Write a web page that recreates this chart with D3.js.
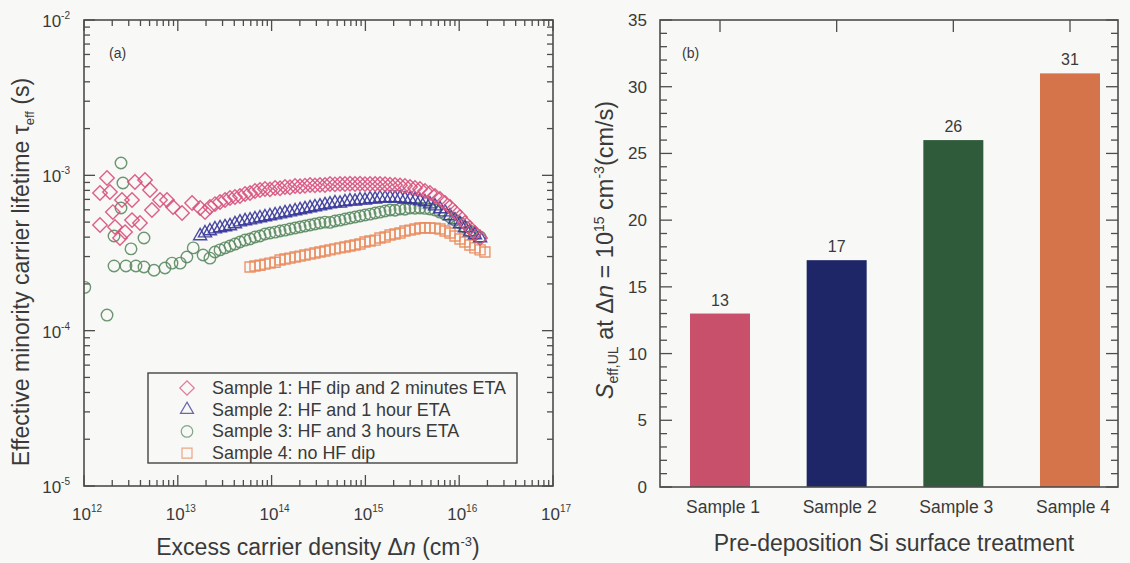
<!DOCTYPE html>
<html><head><meta charset="utf-8">
<script src="https://cdn.jsdelivr.net/npm/d3@7"></script>
<style>
body{margin:0;background:#f8f8f6;}
svg{display:block;font-family:"Liberation Sans",Arial,sans-serif;}
</style></head><body>
<svg id="c" width="1130" height="563"></svg>
<script>
// ---------- Panel (a) data: excess carrier density (cm^-3) and lifetime (s) ----------
const s1Dn = [1.48e12,1.76e12,1.89e12,1.48e12,2.03e12,2.14e12,2.42e12,2.74e12,2.54e12,3.25e12,3.25e12,3.95e12,3.49e12,4.47e12,5.05e12,5.30e12,6.46e12,7.67e12,8.89e12,1.11e13,1.42e13,1.73e13,1.95e13,
 2.20e13,2.49e13,2.82e13,3.19e13,3.60e13,4.07e13,4.60e13,5.21e13,5.89e13,6.65e13,
 7.52e13,8.50e13,9.61e13,1.09e14,1.23e14,1.39e14,1.57e14,1.78e14,2.01e14,2.27e14,
 2.57e14,2.90e14,3.28e14,3.71e14,4.19e14,4.74e14,5.36e14,6.06e14,6.85e14,7.75e14,
 8.76e14,9.90e14,1.12e15,1.27e15,1.43e15,1.62e15,1.83e15,2.07e15,2.34e15,2.64e15,
 2.99e15,3.38e15,3.82e15,4.32e15,4.88e15,5.52e15,6.24e15,7.06e15,7.98e15,9.02e15,
 1.02e16,1.15e16,1.30e16,1.47e16,1.67e16];
const s1Tau = [7.69e-4,9.61e-4,7.81e-4,4.79e-4,5.80e-4,4.65e-4,3.95e-4,4.31e-4,6.93e-4,6.93e-4,5.15e-4,4.93e-4,9.06e-4,9.33e-4,8.04e-4,5.98e-4,6.93e-4,6.93e-4,6.25e-4,5.72e-4,6.63e-4,6.16e-4,5.80e-4,
 6.25e-4,6.53e-4,6.73e-4,6.93e-4,7.14e-4,7.25e-4,7.36e-4,7.58e-4,7.69e-4,7.92e-4,
 8.04e-4,8.16e-4,8.12e-4,8.28e-4,8.25e-4,8.41e-4,8.38e-4,8.53e-4,8.50e-4,8.56e-4,
 8.66e-4,8.62e-4,8.68e-4,8.66e-4,8.79e-4,8.75e-4,8.81e-4,8.79e-4,8.83e-4,8.79e-4,
 8.82e-4,8.78e-4,8.80e-4,8.79e-4,8.81e-4,8.77e-4,8.70e-4,8.66e-4,8.62e-4,8.53e-4,
 8.41e-4,8.28e-4,8.16e-4,7.92e-4,7.69e-4,7.36e-4,7.04e-4,6.63e-4,6.25e-4,5.80e-4,
 5.39e-4,4.93e-4,4.58e-4,4.25e-4,3.95e-4];

const s2Dn = [1.73e13,1.95e13,
 2.20e13,2.49e13,2.82e13,3.19e13,3.60e13,4.07e13,4.60e13,5.21e13,5.89e13,6.65e13,
 7.52e13,8.50e13,9.61e13,1.09e14,1.23e14,1.39e14,1.57e14,1.78e14,2.01e14,2.27e14,
 2.57e14,2.90e14,3.28e14,3.71e14,4.19e14,4.74e14,5.36e14,6.06e14,6.85e14,7.75e14,
 8.76e14,9.90e14,1.12e15,1.27e15,1.43e15,1.62e15,1.83e15,2.07e15,2.34e15,2.64e15,
 2.99e15,3.38e15,3.82e15,4.32e15,4.88e15,5.52e15,6.24e15,7.06e15,7.98e15,9.02e15,
 1.02e16,1.15e16,1.30e16,1.47e16,1.67e16];
const s2Tau = [4.07e-4,4.25e-4,
 4.38e-4,4.51e-4,4.58e-4,4.65e-4,4.72e-4,4.86e-4,5.00e-4,5.08e-4,5.15e-4,5.23e-4,
 5.31e-4,5.39e-4,5.47e-4,5.55e-4,5.63e-4,5.72e-4,5.80e-4,5.89e-4,5.98e-4,6.07e-4,
 6.16e-4,6.25e-4,6.34e-4,6.44e-4,6.53e-4,6.63e-4,6.60e-4,6.73e-4,6.83e-4,6.80e-4,
 6.93e-4,6.90e-4,7.04e-4,7.01e-4,7.14e-4,7.12e-4,7.15e-4,7.13e-4,7.14e-4,7.04e-4,
 7.02e-4,6.93e-4,6.83e-4,6.73e-4,6.53e-4,6.34e-4,6.07e-4,5.80e-4,5.47e-4,5.15e-4,
 4.86e-4,4.58e-4,4.31e-4,4.13e-4,3.95e-4];

const s3Dn = [1.02e12,1.76e12,2.48e12,2.60e12,2.48e12,2.09e12,3.17e12,4.36e12,2.09e12,2.80e12,3.58e12,4.36e12,5.58e12,7.30e12,8.67e12,1.06e13,1.25e13,1.46e13,1.86e13,2.20e13,
 2.49e13,2.82e13,3.19e13,3.60e13,4.07e13,4.60e13,5.21e13,5.89e13,6.65e13,
 7.52e13,8.50e13,9.61e13,1.09e14,1.23e14,1.39e14,1.57e14,1.78e14,2.01e14,2.27e14,
 2.57e14,2.90e14,3.28e14,3.71e14,4.19e14,4.74e14,5.36e14,6.06e14,6.85e14,7.75e14,
 8.76e14,9.90e14,1.12e15,1.27e15,1.43e15,1.62e15,1.83e15,2.07e15,2.34e15,2.64e15,
 2.99e15,3.38e15,3.82e15,4.32e15,4.88e15,5.52e15,6.24e15,7.06e15,7.98e15,9.02e15,
 1.02e16,1.15e16,1.30e16,1.47e16,1.67e16];
const s3Tau = [1.90e-4,1.26e-4,1.20e-3,8.92e-4,6.16e-4,4.07e-4,3.36e-4,3.95e-4,2.61e-4,2.61e-4,2.61e-4,2.57e-4,2.45e-4,2.53e-4,2.72e-4,2.72e-4,2.98e-4,3.41e-4,3.07e-4,2.93e-4,
 3.21e-4,3.31e-4,3.41e-4,3.51e-4,3.61e-4,3.72e-4,3.83e-4,3.89e-4,4.01e-4,
 4.07e-4,4.19e-4,4.25e-4,4.31e-4,4.38e-4,4.44e-4,4.51e-4,4.58e-4,4.65e-4,4.72e-4,
 4.79e-4,4.86e-4,4.93e-4,5.00e-4,4.98e-4,5.08e-4,5.15e-4,5.23e-4,5.31e-4,5.39e-4,
 5.47e-4,5.55e-4,5.63e-4,5.72e-4,5.80e-4,5.89e-4,5.98e-4,5.96e-4,6.07e-4,6.05e-4,
 6.16e-4,6.14e-4,6.16e-4,6.13e-4,6.07e-4,5.98e-4,5.80e-4,5.63e-4,5.39e-4,5.15e-4,
 4.93e-4,4.65e-4,4.38e-4,4.19e-4,4.01e-4];

const s4Dn = [5.89e13,6.65e13,
 7.52e13,8.50e13,9.61e13,1.09e14,1.23e14,1.39e14,1.57e14,1.78e14,2.01e14,2.27e14,
 2.57e14,2.90e14,3.28e14,3.71e14,4.19e14,4.74e14,5.36e14,6.06e14,6.85e14,7.75e14,
 8.76e14,9.90e14,1.12e15,1.27e15,1.43e15,1.62e15,1.83e15,2.07e15,2.34e15,2.64e15,
 2.99e15,3.38e15,3.82e15,4.32e15,4.88e15,5.52e15,6.24e15,7.06e15,7.98e15,9.02e15,
 1.02e16,1.15e16,1.30e16,1.47e16,1.67e16,1.88e16];
const s4Tau = [2.57e-4,2.61e-4,
 2.64e-4,2.68e-4,2.72e-4,2.76e-4,2.85e-4,2.89e-4,2.93e-4,2.98e-4,3.02e-4,3.07e-4,
 3.11e-4,3.16e-4,3.21e-4,3.26e-4,3.31e-4,3.36e-4,3.41e-4,3.46e-4,3.51e-4,3.56e-4,
 3.61e-4,3.72e-4,3.78e-4,3.83e-4,3.95e-4,4.01e-4,4.13e-4,4.19e-4,4.25e-4,4.38e-4,
 4.44e-4,4.51e-4,4.58e-4,4.60e-4,4.58e-4,4.57e-4,4.51e-4,4.38e-4,4.25e-4,4.07e-4,
 3.89e-4,3.72e-4,3.56e-4,3.41e-4,3.31e-4,3.21e-4];

const legendLabels = ["Sample 1: HF dip and 2 minutes ETA","Sample 2: HF and 1 hour ETA","Sample 3: HF and 3 hours ETA","Sample 4: no HF dip"];
const xTickExps = [12,13,14,15,16,17];
const yTickExps = [-5,-4,-3,-2];

// ---------- Panel (b) data ----------
const categories = ["Sample 1","Sample 2","Sample 3","Sample 4"];
const barValues = [13,17,26,31];
const barTicks = [0,5,10,15,20,25,30,35];

// ---------- drawing ----------
const svg = d3.select("#c");
svg.append("rect").attr("width",1130).attr("height",563).attr("fill","#f8f8f6");
const ink = "#3a3a3a", axisCol = "#4d4d4d";

// ===== Panel (a) =====
const A = {l:84,t:20,r:553,b:486};
const x = d3.scaleLog().domain([1e12,1e17]).range([A.l,A.r]);
const y = d3.scaleLog().domain([1e-5,1e-2]).range([A.b,A.t]);
const gA = svg.append("g");
const isMajor = v => Math.abs(Math.log10(v) - Math.round(Math.log10(v))) < 1e-9;

x.ticks().forEach(v => {
  const L = isMajor(v) ? 11 : 6, px = x(v);
  gA.append("line").attr("x1",px).attr("x2",px).attr("y1",A.b).attr("y2",A.b-L).attr("stroke",axisCol).attr("stroke-width",1.3);
  gA.append("line").attr("x1",px).attr("x2",px).attr("y1",A.t).attr("y2",A.t+L).attr("stroke",axisCol).attr("stroke-width",1.3);
});
y.ticks().forEach(v => {
  const L = isMajor(v) ? 11 : 6, py = y(v);
  gA.append("line").attr("y1",py).attr("y2",py).attr("x1",A.l).attr("x2",A.l+L).attr("stroke",axisCol).attr("stroke-width",1.3);
  gA.append("line").attr("y1",py).attr("y2",py).attr("x1",A.r).attr("x2",A.r-L).attr("stroke",axisCol).attr("stroke-width",1.3);
});
xTickExps.forEach(e => {
  const t = gA.append("text").attr("x",x(Math.pow(10,e))+3).attr("y",520).attr("text-anchor","middle")
    .attr("font-size",17).attr("fill",ink);
  t.append("tspan").text("10");
  t.append("tspan").attr("dy",-8).attr("font-size",10).text(e);
});
yTickExps.forEach(e => {
  const t = gA.append("text").attr("x",70).attr("y",y(Math.pow(10,e))+7).attr("text-anchor","end")
    .attr("font-size",17).attr("fill",ink);
  t.append("tspan").text("10");
  t.append("tspan").attr("dy",-8).attr("font-size",10).text(e);
});

svg.append("clipPath").attr("id","clipA").append("rect").attr("x",A.l).attr("y",A.t).attr("width",A.r-A.l).attr("height",A.b-A.t);
const series = [
  {dn:s1Dn, tau:s1Tau, sym:d3.symbol().type(d3.symbolSquare).size(104), rot:45, color:"#d8507d"},
  {dn:s2Dn, tau:s2Tau, sym:d3.symbol().type(d3.symbolTriangle).size(74), rot:0, color:"#36369a"},
  {dn:s3Dn, tau:s3Tau, sym:d3.symbol().type(d3.symbolCircle).size(104), rot:0, color:"#5b8b62"},
  {dn:s4Dn, tau:s4Tau, sym:d3.symbol().type(d3.symbolSquare).size(100), rot:0, color:"#e98a5c"}
];
const gM = gA.append("g").attr("clip-path","url(#clipA)");
series.slice().reverse().forEach(s => {
  gM.append("g").selectAll("path").data(s.dn.map((d,i)=>[d,s.tau[i]])).join("path")
    .attr("d", s.sym())
    .attr("transform", d => `translate(${x(d[0])},${y(d[1])}) rotate(${s.rot})`)
    .attr("fill","none").attr("stroke",s.color).attr("stroke-width",1.4).attr("stroke-opacity",0.9);
});

gA.append("rect").attr("x",A.l).attr("y",A.t).attr("width",A.r-A.l).attr("height",A.b-A.t)
  .attr("fill","none").attr("stroke",axisCol).attr("stroke-width",1.6);

const lg = gA.append("g");
lg.append("rect").attr("x",148).attr("y",373).attr("width",369).attr("height",90)
  .attr("fill","#f8f8f6").attr("stroke","#444").attr("stroke-width",1.4);
legendLabels.forEach((lab,i) => {
  const cy = 388 + i*21.7, s = series[i];
  lg.append("path").attr("d",s.sym()).attr("transform",`translate(187,${cy}) rotate(${s.rot})`)
    .attr("fill","none").attr("stroke",s.color).attr("stroke-width",1.2).attr("stroke-opacity",0.75);
  lg.append("text").attr("x",212).attr("y",cy+6).attr("font-size",17.9).attr("fill",ink).text(lab);
});

gA.append("text").attr("x",109).attr("y",58).attr("font-size",14).attr("fill",ink).text("(a)");
const xt = gA.append("text").attr("x",318).attr("y",555).attr("text-anchor","middle").attr("font-size",23).attr("fill",ink);
xt.append("tspan").text("Excess carrier density Δ");
xt.append("tspan").attr("font-style","italic").text("n");
xt.append("tspan").text(" (cm");
xt.append("tspan").attr("dy",-9).attr("font-size",13).text("-3");
xt.append("tspan").attr("dy",9).text(")");
const yt = gA.append("text").attr("transform","translate(29,272) rotate(-90)").attr("text-anchor","middle").attr("font-size",23).attr("fill",ink);
yt.append("tspan").text("Effective minority carrier lifetime τ");
yt.append("tspan").attr("dy",5).attr("font-size",13).text("eff");
yt.append("tspan").attr("dy",-5).text(" (s)");

// ===== Panel (b) =====
const B = {l:660,t:20,r:1118,b:487};
const xb = d3.scalePoint().domain(categories).range([720,1070]);
const yb = d3.scaleLinear().domain([0,35]).range([B.b,B.t]);
const gB = svg.append("g");
d3.range(0,36,1).forEach(v => {
  const L = v % 5 === 0 ? 12 : 7, py = yb(v);
  gB.append("line").attr("x1",B.l).attr("x2",B.l+L).attr("y1",py).attr("y2",py).attr("stroke",axisCol).attr("stroke-width",1.3);
  gB.append("line").attr("x1",B.r).attr("x2",B.r-L).attr("y1",py).attr("y2",py).attr("stroke",axisCol).attr("stroke-width",1.3);
});
categories.forEach(c => {
  gB.append("line").attr("x1",xb(c)).attr("x2",xb(c)).attr("y1",B.t).attr("y2",B.t+12).attr("stroke",axisCol).attr("stroke-width",1.3);
  gB.append("line").attr("x1",xb(c)).attr("x2",xb(c)).attr("y1",B.b).attr("y2",B.b-12).attr("stroke",axisCol).attr("stroke-width",1.3);
});
const barColors = ["#c9506a","#1f2668","#2f5b3b","#d5734b"];
gB.selectAll("rect.bar").data(categories).join("rect").attr("class","bar")
  .attr("x", c => xb(c)-30).attr("width",60)
  .attr("y", (c,i) => yb(barValues[i])).attr("height",(c,i) => yb(0)-yb(barValues[i]))
  .attr("fill",(c,i) => barColors[i]);
gB.selectAll("text.val").data(categories).join("text").attr("class","val")
  .attr("x", c => xb(c)).attr("y",(c,i) => yb(barValues[i])-8).attr("text-anchor","middle")
  .attr("font-size",16).attr("fill",ink).text((c,i) => barValues[i]);
gB.append("rect").attr("x",B.l).attr("y",B.t).attr("width",B.r-B.l).attr("height",B.b-B.t)
  .attr("fill","none").attr("stroke",axisCol).attr("stroke-width",1.6);
barTicks.forEach(v => {
  gB.append("text").attr("x",647).attr("y",yb(v)+6).attr("text-anchor","end").attr("font-size",17).attr("fill",ink).text(v);
});
categories.forEach(c => {
  gB.append("text").attr("x",xb(c)+3).attr("y",513).attr("text-anchor","middle").attr("font-size",17.5).attr("fill",ink).text(c);
});
gB.append("text").attr("x",682).attr("y",58).attr("font-size",14).attr("fill",ink).text("(b)");
gB.append("text").attr("x",894).attr("y",551).attr("text-anchor","middle").attr("font-size",23).attr("fill",ink).text("Pre-deposition Si surface treatment");
const ybt = gB.append("text").attr("transform","translate(613,250) rotate(-90)").attr("text-anchor","middle").attr("font-size",23.5).attr("fill",ink);
ybt.append("tspan").attr("font-style","italic").text("S");
ybt.append("tspan").attr("dy",5).attr("font-size",14).text("eff,UL");
ybt.append("tspan").attr("dy",-5).text(" at Δ");
ybt.append("tspan").attr("font-style","italic").text("n");
ybt.append("tspan").text(" = 10");
ybt.append("tspan").attr("dy",-9).attr("font-size",14).text("15");
ybt.append("tspan").attr("dy",9).text(" cm");
ybt.append("tspan").attr("dy",-9).attr("font-size",14).text("-3");
ybt.append("tspan").attr("dy",9).text("(cm/s)");
</script>
</body></html>
